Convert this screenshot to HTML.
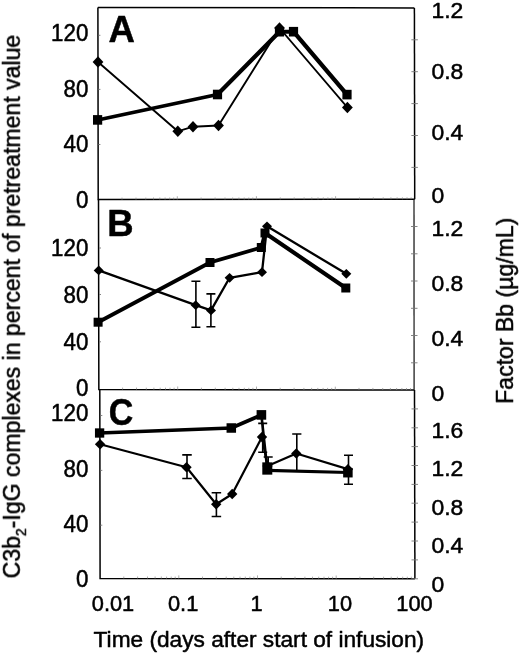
<!DOCTYPE html>
<html><head><meta charset="utf-8"><title>Figure</title><style>html,body{margin:0;padding:0;background:#fff}svg{display:block}</style></head><body>
<svg width="520" height="655" viewBox="0 0 520 655">
<rect width="520" height="655" fill="#fff"/>
<defs><filter id="soft" x="0" y="0" width="100%" height="100%" filterUnits="userSpaceOnUse"><feGaussianBlur stdDeviation="0.45"/></filter></defs>
<g filter="url(#soft)">
<g fill="none" stroke="#000" stroke-width="1.5" stroke-linejoin="miter">
<path d="M97.9 7.4L98.2 199.6L414.7 199.3"/>
<path d="M414.7 199.3L414.4 7.9"/>
<path d="M98.5 199.6L98.85 389.6L414.1 390.0"/>
<path d="M414.1 390.0L414.0 199.3" stroke="#222" stroke-width="1.3"/>
<path d="M99.8 389.6L100.1 578.5L414.9 578.75"/>
<path d="M414.9 578.75L414.5 390.0"/>
<path d="M97.9 7.4L414.4 7.9"/>
</g>
<path d="M98.4 35.3h2 M98.4 89.4h2 M98.4 144.5h2 M99.0 248.0h2 M99.0 294.5h2 M99.0 341.8h2 M100.3 415.5h2 M100.3 470.4h2 M100.3 525.2h2 M411.4 167.4h6.5 M411.4 135.5h6.5 M411.4 103.6h6.5 M411.4 71.7h6.5 M411.4 39.8h6.5 M411.0 362.8h6.5 M411.0 335.5h6.5 M411.0 308.3h6.5 M411.0 281.0h6.5 M411.0 253.8h6.5 M411.0 226.5h6.5 M411.5 578.8h6.5 M411.5 559.9h6.5 M411.5 541.0h6.5 M411.5 522.1h6.5 M411.5 503.2h6.5 M411.5 484.4h6.5 M411.5 465.5h6.5 M411.5 446.6h6.5 M411.5 427.8h6.5 M411.5 408.9h6.5" stroke="#777" stroke-width="0.9" fill="none"/>
<path d="M122.0 199.6v-2.0 M136.0 199.6v-2.0 M145.8 199.6v-2.0 M153.5 199.5v-2.0 M159.8 199.5v-2.0 M165.1 199.5v-2.0 M169.7 199.5v-2.0 M173.7 199.5v-2.0 M177.3 199.5v-3.2 M201.1 199.5v-2.0 M215.1 199.5v-2.0 M225.0 199.5v-2.0 M232.6 199.5v-2.0 M238.9 199.5v-2.0 M244.2 199.5v-2.0 M248.8 199.5v-2.0 M252.8 199.5v-2.0 M256.4 199.4v-3.2 M280.3 199.4v-2.0 M294.2 199.4v-2.0 M304.1 199.4v-2.0 M311.8 199.4v-2.0 M318.0 199.4v-2.0 M323.3 199.4v-2.0 M327.9 199.4v-2.0 M332.0 199.4v-2.0 M335.6 199.4v-3.2 M359.4 199.4v-2.0 M373.3 199.3v-2.0 M383.2 199.3v-2.0 M390.9 199.3v-2.0 M397.1 199.3v-2.0 M402.4 199.3v-2.0 M407.0 199.3v-2.0 M411.1 199.3v-2.0 M122.6 389.6v-2.0 M136.5 389.6v-2.0 M146.3 389.7v-2.0 M153.9 389.7v-2.0 M160.2 389.7v-2.0 M165.5 389.7v-2.0 M170.0 389.7v-2.0 M174.1 389.7v-2.0 M177.7 389.7v-3.2 M201.4 389.7v-2.0 M215.3 389.7v-2.0 M225.1 389.8v-2.0 M232.8 389.8v-2.0 M239.0 389.8v-2.0 M244.3 389.8v-2.0 M248.8 389.8v-2.0 M252.9 389.8v-2.0 M256.5 389.8v-3.2 M280.2 389.8v-2.0 M294.1 389.8v-2.0 M303.9 389.9v-2.0 M311.6 389.9v-2.0 M317.8 389.9v-2.0 M323.1 389.9v-2.0 M327.6 389.9v-2.0 M331.7 389.9v-2.0 M335.3 389.9v-3.2 M359.0 389.9v-2.0 M372.9 389.9v-2.0 M382.7 390.0v-2.0 M390.4 390.0v-2.0 M396.6 390.0v-2.0 M401.9 390.0v-2.0 M406.5 390.0v-2.0 M410.5 390.0v-2.0 M123.8 578.5v-2.0 M137.6 578.5v-2.0 M147.5 578.5v-2.0 M155.1 578.5v-2.0 M161.3 578.5v-2.0 M166.6 578.6v-2.0 M171.2 578.6v-2.0 M175.2 578.6v-2.0 M178.8 578.6v-3.2 M202.5 578.6v-2.0 M216.3 578.6v-2.0 M226.2 578.6v-2.0 M233.8 578.6v-2.0 M240.0 578.6v-2.0 M245.3 578.6v-2.0 M249.9 578.6v-2.0 M253.9 578.6v-2.0 M257.5 578.6v-3.2 M281.2 578.6v-2.0 M295.0 578.7v-2.0 M304.9 578.7v-2.0 M312.5 578.7v-2.0 M318.7 578.7v-2.0 M324.0 578.7v-2.0 M328.6 578.7v-2.0 M332.6 578.7v-2.0 M336.2 578.7v-3.2 M359.9 578.7v-2.0 M373.7 578.7v-2.0 M383.6 578.7v-2.0 M391.2 578.7v-2.0 M397.4 578.7v-2.0 M402.7 578.7v-2.0 M407.3 578.7v-2.0 M411.3 578.7v-2.0" stroke="#888" stroke-width="0.7" fill="none"/>
<line x1="97.6" y1="119.9" x2="217.5" y2="94.5" stroke="#000" stroke-width="3.6" stroke-linecap="round"/><line x1="217.5" y1="94.5" x2="279.5" y2="31.7" stroke="#000" stroke-width="4.2" stroke-linecap="round"/><line x1="279.5" y1="31.7" x2="293.5" y2="31.7" stroke="#000" stroke-width="4.0" stroke-linecap="round"/><line x1="293.5" y1="31.7" x2="347" y2="94.6" stroke="#000" stroke-width="4.3" stroke-linecap="round"/>
<polyline points="98,62 177.8,131.3 193,126.7 218.5,125.5 279.5,28 347.4,107.5" fill="none" stroke="#000" stroke-width="1.9" stroke-linejoin="round"/>
<g fill="#000"><rect x="93.00" y="115.10" width="9.2" height="9.6"/><rect x="212.90" y="89.70" width="9.2" height="9.6"/><rect x="274.90" y="26.90" width="9.2" height="9.6"/><rect x="288.90" y="26.90" width="9.2" height="9.6"/><rect x="342.40" y="89.80" width="9.2" height="9.6"/><path d="M98 56.2L103.4 62L98 67.8L92.6 62Z"/><path d="M177.8 125.50000000000001L183.20000000000002 131.3L177.8 137.10000000000002L172.4 131.3Z"/><path d="M193 120.9L198.4 126.7L193 132.5L187.6 126.7Z"/><path d="M218.5 119.7L223.9 125.5L218.5 131.3L213.1 125.5Z"/><path d="M279.5 22.2L284.9 28L279.5 33.8L274.1 28Z"/><path d="M347.4 101.7L352.79999999999995 107.5L347.4 113.3L342.0 107.5Z"/></g>
<line x1="98.1" y1="322.2" x2="210" y2="262.5" stroke="#000" stroke-width="3.85" stroke-linecap="round"/><line x1="210" y1="262.5" x2="261.3" y2="247.5" stroke="#000" stroke-width="3.85" stroke-linecap="round"/><line x1="261.3" y1="247.5" x2="265" y2="233" stroke="#000" stroke-width="3.6" stroke-linecap="round"/><line x1="265" y1="233" x2="345.8" y2="288" stroke="#000" stroke-width="4.1" stroke-linecap="round"/>
<polyline points="98.7,270.4 195.7,305.2 211.0,310.4 229.6,277.8 262,272.2 267,226.3 346.3,273.8" fill="none" stroke="#000" stroke-width="2.3" stroke-linejoin="round"/>
<path d="M195.9 281.2V327.3M191.4 281.2h9M191.4 327.3h9" fill="none" stroke="#000" stroke-width="1.6"/>
<path d="M210.9 293.9V326.7M206.4 293.9h9M206.4 326.7h9" fill="none" stroke="#000" stroke-width="1.6"/>
<g fill="#000"><rect x="93.60" y="317.70" width="9.0" height="9.0"/><rect x="205.50" y="258.00" width="9.0" height="9.0"/><rect x="256.80" y="243.00" width="9.0" height="9.0"/><rect x="260.50" y="228.50" width="9.0" height="9.0"/><rect x="341.30" y="283.50" width="9.0" height="9.0"/><path d="M98.7 265.5L103.7 270.4L98.7 275.29999999999995L93.7 270.4Z"/><path d="M195.7 300.3L200.7 305.2L195.7 310.09999999999997L190.7 305.2Z"/><path d="M211.0 305.5L216.0 310.4L211.0 315.29999999999995L206.0 310.4Z"/><path d="M229.6 272.90000000000003L234.6 277.8L229.6 282.7L224.6 277.8Z"/><path d="M262 267.3L267.0 272.2L262 277.09999999999997L257.0 272.2Z"/><path d="M267 221.4L272.0 226.3L267 231.20000000000002L262.0 226.3Z"/><path d="M346.3 268.90000000000003L351.3 273.8L346.3 278.7L341.3 273.8Z"/></g>
<line x1="99.6" y1="433" x2="231.3" y2="428" stroke="#000" stroke-width="3.3" stroke-linecap="round"/><line x1="231.3" y1="428" x2="261.4" y2="415" stroke="#000" stroke-width="3.8" stroke-linecap="round"/><line x1="261.4" y1="415" x2="267.4" y2="470.3" stroke="#000" stroke-width="2.6" stroke-linecap="round"/><line x1="267.4" y1="470.3" x2="347.9" y2="472.5" stroke="#000" stroke-width="3.2" stroke-linecap="round"/>
<polyline points="100.1,444.3 186.5,467.2 216.2,504.2 232.2,494.0 262,437 267.5,466 296.3,453.5 347.9,469.2" fill="none" stroke="#000" stroke-width="2.2" stroke-linejoin="round"/>
<path d="M187 454.9V478.5M182.25 454.9h9.5M182.25 478.5h9.5" fill="none" stroke="#000" stroke-width="1.6"/>
<path d="M216.4 492.8V516.5M211.65 492.8h9.5M211.65 516.5h9.5" fill="none" stroke="#000" stroke-width="1.6"/>
<path d="M262.7 423.4V452.3M258.2 423.4h9M258.2 452.3h9" fill="none" stroke="#000" stroke-width="1.6"/>
<path d="M268.2 457V474M263.7 457h9" fill="none" stroke="#000" stroke-width="1.6"/>
<path d="M296.8 434V471M292.2 434h9.2" fill="none" stroke="#000" stroke-width="1.6"/>
<path d="M348.5 455.2V484.2M344.0 455.2h9M344.0 484.2h9" fill="none" stroke="#000" stroke-width="1.6"/>
<g fill="#000"><rect x="94.95" y="428.35" width="9.3" height="9.3"/><rect x="226.55" y="423.25" width="9.5" height="9.5"/><rect x="256.60" y="410.10" width="9.6" height="9.6"/><rect x="262.30" y="462.35" width="10" height="12.3"/><rect x="343.15" y="467.95" width="9.5" height="9.5"/><path d="M100.1 439.1L105.3 444.3L100.1 449.5L94.89999999999999 444.3Z"/><path d="M186.5 462.0L191.7 467.2L186.5 472.4L181.3 467.2Z"/><path d="M216.2 499.0L221.39999999999998 504.2L216.2 509.4L211.0 504.2Z"/><path d="M232.2 488.8L237.39999999999998 494.0L232.2 499.2L227.0 494.0Z"/><path d="M262 431.8L267.2 437L262 442.2L256.8 437Z"/><path d="M267.5 460.8L272.7 466L267.5 471.2L262.3 466Z"/><path d="M296.3 448.3L301.5 453.5L296.3 458.7L291.1 453.5Z"/><path d="M347.9 464.0L353.09999999999997 469.2L347.9 474.4L342.7 469.2Z"/></g>
<g font-family="'Liberation Sans', Arial, Helvetica, sans-serif" fill="#000" stroke="#000" stroke-width="0.5" stroke-linejoin="round">
<g font-size="36.5" font-weight="bold">
<text x="108.6" y="42.2">A</text><text x="107.3" y="235.8">B</text><text x="108.8" y="425.0" textLength="24.5" lengthAdjust="spacingAndGlyphs">C</text></g>
<text font-size="22.3" text-anchor="end" transform="translate(88.3 40.9) scale(1 1.05)">120</text>
<text font-size="22.3" text-anchor="end" transform="translate(88.3 96.5) scale(1 1.05)">80</text>
<text font-size="22.3" text-anchor="end" transform="translate(88.3 152.1) scale(1 1.05)">40</text>
<text font-size="22.3" text-anchor="end" transform="translate(88.3 207.7) scale(1 1.05)">0</text>
<text font-size="22.3" text-anchor="end" transform="translate(88.3 256.1) scale(1 1.05)">120</text>
<text font-size="22.3" text-anchor="end" transform="translate(88.3 302.9) scale(1 1.05)">80</text>
<text font-size="22.3" text-anchor="end" transform="translate(88.3 349.7) scale(1 1.05)">40</text>
<text font-size="22.3" text-anchor="end" transform="translate(88.3 396.1) scale(1 1.05)">0</text>
<text font-size="22.3" text-anchor="end" transform="translate(88.3 421.3) scale(1 1.05)">120</text>
<text font-size="22.3" text-anchor="end" transform="translate(88.3 476.5) scale(1 1.05)">80</text>
<text font-size="22.3" text-anchor="end" transform="translate(88.3 531.5) scale(1 1.05)">40</text>
<text font-size="22.3" text-anchor="end" transform="translate(88.3 586.5) scale(1 1.05)">0</text>
<text font-size="22.9" text-anchor="start" transform="translate(431.4 18.4) scale(1 1.0)">1.2</text>
<text font-size="22.9" text-anchor="start" transform="translate(431.4 79.1) scale(1 1.0)">0.8</text>
<text font-size="22.9" text-anchor="start" transform="translate(431.4 139.6) scale(1 1.0)">0.4</text>
<text font-size="22.9" text-anchor="start" transform="translate(431.4 203.4) scale(1 1.0)">0</text>
<text font-size="22.9" text-anchor="start" transform="translate(431.4 235.7) scale(1 1.0)">1.2</text>
<text font-size="22.9" text-anchor="start" transform="translate(431.4 291.1) scale(1 1.0)">0.8</text>
<text font-size="22.9" text-anchor="start" transform="translate(431.4 346.1) scale(1 1.0)">0.4</text>
<text font-size="22.9" text-anchor="start" transform="translate(431.4 401.1) scale(1 1.0)">0</text>
<text font-size="22.9" text-anchor="start" transform="translate(431.4 437.5) scale(1 1.0)">1.6</text>
<text font-size="22.9" text-anchor="start" transform="translate(431.4 475.5) scale(1 1.0)">1.2</text>
<text font-size="22.9" text-anchor="start" transform="translate(431.4 514.7) scale(1 1.0)">0.8</text>
<text font-size="22.9" text-anchor="start" transform="translate(431.4 553.4) scale(1 1.0)">0.4</text>
<text font-size="22.9" text-anchor="start" transform="translate(431.4 592.1) scale(1 1.0)">0</text>
<text font-size="21.8" text-anchor="start" transform="translate(91.8 611.4) scale(1 1.03)">0.01</text>
<text font-size="21.8" text-anchor="start" transform="translate(168.0 611.4) scale(1 1.03)">0.1</text>
<text font-size="21.8" text-anchor="start" transform="translate(250.6 611.4) scale(1 1.03)">1</text>
<text font-size="21.8" text-anchor="start" transform="translate(327.8 611.4) scale(1 1.03)">10</text>
<text font-size="21.8" text-anchor="start" transform="translate(396.3 611.4) scale(1 1.03)">100</text>
<text font-size="22.68" x="93.6" y="647.4">Time (days after start of infusion)</text>
<text font-size="23.07" transform="translate(19.9 578.4) rotate(-90)">C3b<tspan font-size="14" dy="6.3">2</tspan><tspan dy="-6.3">-IgG complexes in percent of pretreatment value</tspan></text>
<text font-size="23.05" transform="translate(513 403.8) rotate(-90)">Factor Bb (µg/mL)</text>
</g></g></svg>
</body></html>
